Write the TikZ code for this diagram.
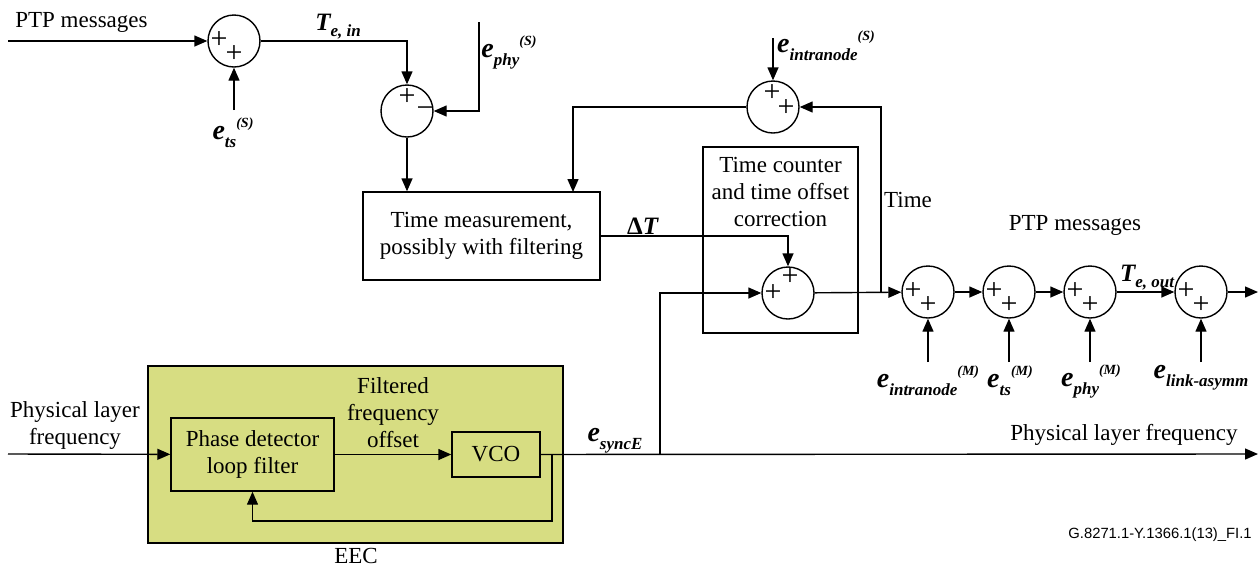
\documentclass[tikz,border=0pt]{standalone}
\usepackage{amsmath}
\usepackage{fontspec}
\setmainfont{Liberation Serif}
\newfontfamily\footfont{Liberation Sans}
\usepackage{xcolor}
\usepackage{tikz}
\usetikzlibrary{arrows.meta}

\definecolor{eecgreen}{RGB}{215,221,130}

% error terms and time error labels
\newcommand{\errlbl}[2]{{\bfseries\itshape\fontsize{14}{14}\selectfont e\raisebox{-4pt}{\fontsize{8.5}{8.5}\selectfont #1}\raisebox{6pt}{\fontsize{7}{7}\selectfont #2}}}
\newcommand{\telbl}[1]{{\bfseries\itshape\fontsize{12.5}{12.5}\selectfont T\raisebox{-3pt}{\fontsize{8.5}{8.5}\selectfont #1}}}

\begin{document}
\begin{tikzpicture}[x=0.5pt, y=-0.5pt, line width=0.7pt,
    every node/.style={font=\fontsize{11.5}{13.5}\selectfont},
    arr/.style={-{Triangle[length=6.5pt,width=5.5pt]}},
    sum/.style={draw, circle, minimum size=26pt, inner sep=0pt},
    blk/.style={draw, align=center, inner sep=0pt},
    sgn/.style={font=\fontsize{15}{15}\selectfont, inner sep=0pt}]
    \useasboundingbox (0,0) rectangle (1260,569);

    % EEC
    \node[blk, fill=eecgreen, minimum width=207.5pt, minimum height=88.5pt] (eec) at (355.5,454.5) {};
    \node (eeclbl) at (356,556) {EEC};
    \node[blk, minimum width=81.5pt, minimum height=36.5pt] (pd) at (252.5,454.5) {Phase detector\\loop filter};
    \node[blk, minimum width=44pt, minimum height=22.5pt] (vco) at (496,454.5) {VCO};
    \node[align=center] (filtlbl) at (393,413) {Filtered\\frequency\\offset};

    % Boxes
    \node[blk, minimum width=118.5pt, minimum height=44pt] (meas) at (481.5,236) {Time measurement,\\possibly with filtering};
    \node[blk, minimum width=77.5pt, minimum height=93pt] (counter) at (780.5,240) {};
    \node[align=center] (counterlbl) at (780.5,192) {Time counter\\and time offset\\correction};

    % Summing points
    \node[sum] (sumTs) at (234,41) {};
    \node[sum] (sumPhy) at (407,111) {};
    \node[sum] (sumIntra) at (773,107) {};
    \node[sum] (sumCorr) at (788,293) {};
    \node[sum] (sumIntraM) at (928,292) {};
    \node[sum] (sumTsM) at (1009,292) {};
    \node[sum] (sumPhyM) at (1090,292) {};
    \node[sum] (sumLink) at (1201,292) {};

    \foreach \s in {sumTs,sumIntraM,sumTsM,sumPhyM,sumLink}{
        \node[sgn] at ([shift={(-15,-1)}]\s.center) {+};
        \node[sgn] at ([shift={(0,13)}]\s.center) {+};
    }
    \node[sgn] at ([shift={(0,-14)}]sumPhy.center) {+};
    \node[sgn] at ([shift={(18,1)}]sumPhy.center) {−};
    \node[sgn] at ([shift={(-1,-14)}]sumIntra.center) {+};
    \node[sgn] at ([shift={(13,1)}]sumIntra.center) {+};
    \node[sgn] at ([shift={(-15,0)}]sumCorr.center) {+};
    \node[sgn] at ([shift={(2,-16)}]sumCorr.center) {+};

    % Free ends
    \coordinate (ptpIn) at (8,41);
    \coordinate (tsS) at (234,110);
    \coordinate (phyS) at (479,22);
    \coordinate (intraS) at (773,38);
    \coordinate (measIn) at (573,192);
    \coordinate (tap) at (881,292);
    \coordinate (split) at (660,454);
    \coordinate (fbTap) at (552,454);
    \coordinate (phyIn) at (8,454);
    \coordinate (phyOut) at (1258,454);
    \coordinate (ptpOut) at (1258,292);
    \coordinate (intraM) at (928,362);
    \coordinate (tsM) at (1009,362);
    \coordinate (phyM) at (1090,362);
    \coordinate (linkM) at (1201,362);

    % Connectors
    \draw[arr] (ptpIn) -- (sumTs);
    \draw[arr] (tsS) -- (sumTs);
    \draw[arr] (sumTs) -| (sumPhy);
    \draw[arr] (phyS) |- (sumPhy);
    \draw[arr] (sumPhy) -- (sumPhy |- meas.north);
    \draw[arr] (sumIntra) -| (measIn);
    \draw[arr] (intraS) -- (sumIntra);
    \draw[arr] (tap) |- (sumIntra);
    \draw[arr] (meas.east) -| (sumCorr);
    \draw[arr] (split) |- (sumCorr);
    \draw[arr] (sumCorr) -- (sumIntraM);
    \draw[arr] (sumIntraM) -- (sumTsM);
    \draw[arr] (sumTsM) -- (sumPhyM);
    \draw[arr] (sumPhyM) -- (sumLink);
    \draw[arr] (sumLink) -- (ptpOut);
    \draw[arr] (intraM) -- (sumIntraM);
    \draw[arr] (tsM) -- (sumTsM);
    \draw[arr] (phyM) -- (sumPhyM);
    \draw[arr] (linkM) -- (sumLink);
    \draw[arr] (phyIn) -- (pd);
    \draw[arr] (pd) -- (vco);
    \draw[arr] (vco) -- (phyOut);
    \draw[arr] (fbTap) -- ++(0,67) -| (pd.south);

    % Labels
    \node[anchor=west] (ptpInLbl) at (8,22) {PTP messages};
    \node (teinLbl) at (338,27) {\telbl{e, in}};
    \node (tsSLbl) at (233,133) {\errlbl{ts}{(S)}};
    \node (phySLbl) at (509,52) {\errlbl{phy}{(S)}};
    \node (intraSLbl) at (826,46) {\errlbl{intranode}{(S)}};
    \node (dtLbl) at (643,226) {{\bfseries\fontsize{12.5}{12.5}\selectfont Δ\textit{T}}};
    \node (timeLbl) at (908,200) {Time};
    \node (ptpOutLbl) at (1075,225) {PTP messages};
    \node (teoutLbl) at (1147,278) {\telbl{e, out}};
    \node (intraMLbl) at (928,381) {\errlbl{intranode}{(M)}};
    \node (tsMLbl) at (1010,381) {\errlbl{ts}{(M)}};
    \node (phyMLbl) at (1091,381) {\errlbl{phy}{(M)}};
    \node (linkMLbl) at (1201,378) {\errlbl{link-asymm}{}};
    \node[align=center] (phyInLbl) at (75,425) {Physical layer\\frequency};
    \node (syncLbl) at (615,441) {\errlbl{syncE}{}};
    \node[anchor=east] (phyOutLbl) at (1245,435) {Physical layer frequency};
    \node[anchor=east, font=\footfont\fontsize{7.4}{9}\selectfont] (figLbl) at (1259,535) {G.8271.1-Y.1366.1(13)\_FI.1};
\end{tikzpicture}
\end{document}
